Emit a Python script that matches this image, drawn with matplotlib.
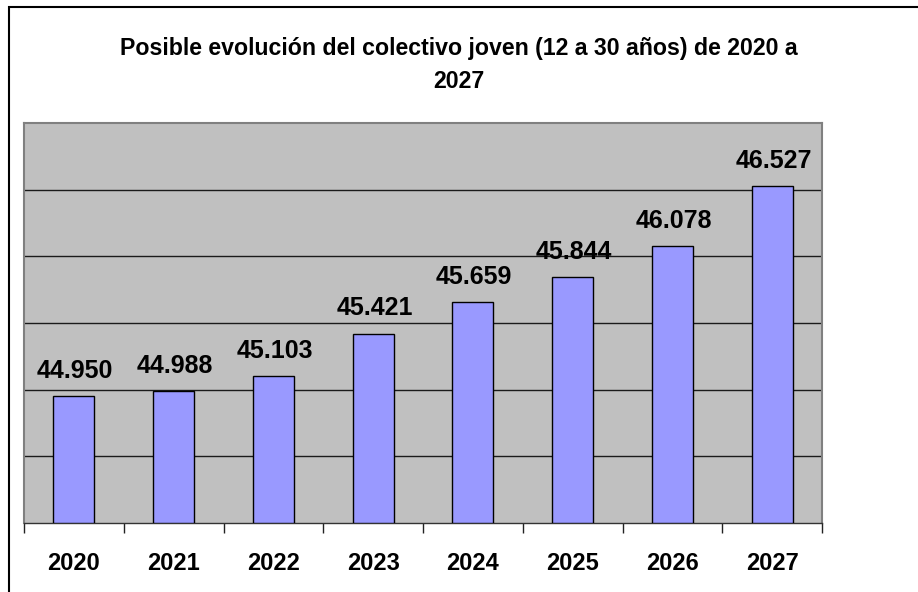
import matplotlib
matplotlib.use("Agg")
import matplotlib.pyplot as plt
from matplotlib.patches import Rectangle

years = ["2020", "2021", "2022", "2023", "2024", "2025", "2026", "2027"]
values = [44.950, 44.988, 45.103, 45.421, 45.659, 45.844, 46.078, 46.527]
labels = ["44.950", "44.988", "45.103", "45.421", "45.659", "45.844", "46.078", "46.527"]
title = "Posible evolución del colectivo joven (12 a 30 años) de 2020 a\n2027"

plt.rcParams['font.family'] = ['Liberation Sans', 'DejaVu Sans']

W, H = 918, 592
fig = plt.figure(figsize=(W / 100, H / 100), dpi=100)
fig.patch.set_facecolor('white')

# outer chart frame (cropped at right/bottom)
fig.patches.append(Rectangle((9 / W, -0.1), 1.2, (H - 7) / H + 0.1, transform=fig.transFigure,
                             fill=False, edgecolor='black', linewidth=1.5, zorder=0))

ax = fig.add_axes([24 / W, (H - 523) / H, (822 - 24) / W, (523 - 123) / H])
ax.set_facecolor('#C0C0C0')
x = list(range(len(years)))
ax.bar(x, [v - 44 for v in values], bottom=44, width=0.41, color='#9999FF',
       edgecolor='black', linewidth=1.0, zorder=3)
ax.set_xlim(-0.5, len(years) - 0.5)
ax.set_ylim(44, 47)
ax.set_yticks([44.5, 45, 45.5, 46, 46.5])
ax.yaxis.grid(True, color='#1a1a1a', linewidth=1.0, zorder=1)
ax.set_axisbelow(True)
ax.tick_params(axis='y', left=False, labelleft=False)

# category boundary ticks
ax.set_xticks([i - 0.5 for i in range(len(years) + 1)], minor=False)
ax.set_xticklabels([])
ax.set_xticks(x, minor=True)
ax.set_xticklabels(years, minor=True, fontsize=17, fontweight='bold')
ax.tick_params(axis='x', which='major', direction='out', length=7, width=1.0, color='#222222')
ax.tick_params(axis='x', which='minor', length=0, pad=21)

for s in ['top', 'right', 'left']:
    ax.spines[s].set_color('#808080')
    ax.spines[s].set_linewidth(1.5)
ax.spines['bottom'].set_color('#333333')
ax.spines['bottom'].set_linewidth(1.0)

for xi, v, lab in zip(x, values, labels):
    ax.annotate(lab, (xi, v), xytext=(1, 13), textcoords='offset points',
                ha='center', va='baseline', fontsize=18, fontweight='bold', zorder=4)

fig.text(459 / W, 1 - 49 / H, title.split("\n")[0], ha='center', va='center',
         fontsize=16.7, fontweight='bold')
fig.text(459 / W, 1 - 82 / H, title.split("\n")[1], ha='center', va='center',
         fontsize=16.7, fontweight='bold')

fig.savefig('out.png', dpi=100)
